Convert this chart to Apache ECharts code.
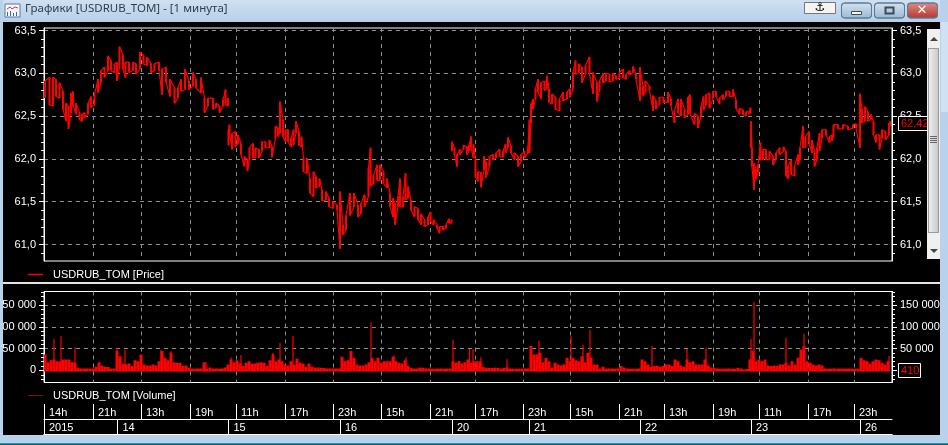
<!DOCTYPE html>
<html><head><meta charset="utf-8">
<style>html,body{margin:0;padding:0;background:#000;overflow:hidden}#c{width:948px;height:445px}</style>
<script src="https://cdn.jsdelivr.net/npm/echarts@6/dist/echarts.min.js"></script>
</head><body><div id="c"></div>
<script>
const windowTitle = 'Графики [USDRUB_TOM] - [1 минута]';
const priceName = 'USDRUB_TOM [Price]';
const volumeName = 'USDRUB_TOM [Volume]';
const hourBars = [0,49,97,146,192,241,289,337,386,431,479,526,575,620,669,715,764,810];
const hourLabels = ['14h','21h','13h','19h','11h','17h','23h','15h','21h','17h','23h','15h','21h','13h','19h','11h','17h','23h'];
const dateBars = [0,73.5,184.5,296,408,485,596,707,816];
const dateLabels = ['2015','14','15','16','20','21','22','23','26'];
const priceTicks = [61,61.5,62,62.5,63,63.5];
const priceMinorTicks = [60.9,61.1,61.2,61.3,61.4,61.6,61.7,61.8,61.9,62.1,62.2,62.3,62.4,62.6,62.7,62.8,62.9,63.1,63.2,63.3,63.4];
const volumeTicks = [0,50000,100000,150000];
const volumeMinorTicks = [-20000,-10000,10000,20000,30000,40000,60000,70000,80000,90000,110000,120000,130000,140000,160000,170000,180000];
const lastPrice = 62.42;
const lastVolume = 410;

// Bar position (one bar per screen column), session high and low; null marks a break in the line.
const priceBars = [1,5.5,9,12,15.5,19,22,24.5,27,29,32,35.5,38,40.5,44,47,50.5,54,57,60.5,64,67,70.5,73,75.5,79,81.5,85,89,92,96,99.5,103,107,110.5,115,118,122,126,130.5,134,137,141,145,149,152,157,160.5,164,169,172,175.5,179,181.5,184,184.2,
184.5,185.5,188,191.5,194,197,200.5,203.5,205.5,209,211.5,215,218,221.5,225.5,228,231.5,234,236,239,241.5,244,247,249.5,252,255,257.5,259.5,263,266,269.5,272,275.5,278,282,285,289,293,296,299,302,306,310,314,317,320.5,324.5,326.5,329.5,333,336,339.5,343,346,349,351,354,356,359,361.5,364,367,370.5,374,377,380.5,384,386.5,389.5,393,395.5,399,402,405,407.5,407.8,
408,410.5,413,416,419.5,423,425,427,429.5,431.5,434,437,440,442,445.5,449,452,455.5,459,461.5,464,467,470.5,474,477,480.5,484,485.5,487,489,491.5,494,497,500.5,503,505,508,511.5,515.5,519,523,526,529,531.5,535,538,541.5,545.5,549,553,555.5,559,562,565.5,569,572,575.5,579,582,585.5,589,592,596,599,601.5,605.5,609,612,615.5,619.5,624,627,630.5,634,637,640.5,644,646,650.5,654,657,659.5,662,665.5,669,672,675.5,679,682,685.5,689,692,695.5,699,702,705,706.5,706.8,
707,708,710,712,714,716.5,719,722,725.5,729,732,735.5,739.5,742,744,747,750.5,754,756,759,761.5,765,768,770.5,773,775.5,778,782,785.5,788,789.5,794,799,804,809,812,816,818,821,824,827,829.5,832,835.5,838,841.5,845,846];
const priceHighs = [62.91,62.95,62.95,62.93,62.89,62.79,62.65,62.62,62.77,62.79,62.65,62.54,62.52,62.54,62.65,62.73,62.75,62.93,63.03,63.07,63.20,63.15,63.11,63.13,63.31,63.21,63.13,63.13,63.13,63.11,63.25,63.21,63.19,63.11,63.11,63.13,63.05,63.07,62.93,62.83,62.83,62.93,63.05,62.91,63.01,62.93,62.95,62.71,62.71,62.71,62.65,62.62,62.69,62.81,62.71,null,
62.34,62.40,62.30,62.32,62.28,62.18,62.03,61.99,62.13,62.18,62.13,62.11,62.20,62.20,62.22,62.14,62.38,62.36,62.67,62.46,62.34,62.34,62.24,62.34,62.44,62.32,62.26,62.01,62.01,61.77,61.85,61.79,61.77,61.64,61.62,61.54,61.50,61.46,61.62,61.23,61.34,61.60,61.60,61.46,61.48,61.58,61.89,62.13,61.81,61.93,61.93,61.85,61.77,61.60,61.54,61.48,61.56,61.77,61.56,61.83,61.68,61.52,61.44,61.42,61.36,61.29,61.32,61.38,61.29,61.23,61.21,61.21,61.23,61.30,61.29,null,
62.20,62.13,62.05,62.11,62.16,62.14,62.16,62.26,62.17,61.99,61.85,61.84,62.03,61.97,62.03,62.05,62.07,62.11,62.09,62.17,62.25,62.15,62.07,62.03,62.05,62.09,62.15,62.46,62.64,62.70,62.82,62.93,62.89,62.91,62.97,62.82,62.76,62.72,62.70,62.78,62.78,62.82,63.01,63.15,63.11,63.07,63.09,63.19,63.01,62.89,62.91,63.00,63.00,62.99,63.00,62.97,63.01,63.05,62.99,63.03,63.08,62.99,63.07,62.85,62.91,62.85,62.74,62.68,62.72,62.72,62.78,62.70,62.56,62.70,62.70,62.58,62.72,62.75,62.53,62.50,62.61,62.73,62.75,62.77,62.79,62.79,62.71,62.75,62.79,62.79,62.81,62.69,62.59,62.57,62.55,62.55,62.60,null,
62.44,62.13,61.95,61.88,61.93,62.19,62.11,62.11,62.09,62.03,62.07,62.13,62.14,62.09,61.91,61.99,61.91,62.05,62.13,62.38,62.26,62.32,62.22,62.09,62.13,62.30,62.34,62.34,62.26,62.28,62.40,62.40,62.40,62.38,62.40,62.41,62.76,62.59,62.61,62.55,62.52,62.44,62.28,62.28,62.34,62.32,62.42,62.44];
const priceLows = [62.71,62.63,62.62,62.73,62.71,62.58,62.44,62.35,62.54,62.62,62.52,62.46,62.44,62.48,62.52,62.60,62.63,62.77,62.89,62.95,63.03,63.03,63.01,62.91,63.07,63.05,62.95,63.01,63.03,62.99,63.05,63.11,63.09,63.01,63.03,63.03,62.75,62.89,62.73,62.65,62.71,62.79,62.81,62.81,62.85,62.83,62.77,62.54,62.62,62.58,62.60,62.54,62.62,62.63,62.62,null,
62.16,62.30,62.11,62.14,62.18,62.05,61.91,61.86,61.99,62.01,62.01,62.01,62.09,62.13,62.13,62.02,62.24,62.26,62.30,62.26,62.20,62.20,62.14,62.16,62.30,62.16,62.14,61.85,61.83,61.60,61.56,61.66,61.68,61.51,61.52,61.44,61.42,61.41,60.95,61.11,61.17,61.34,61.44,61.32,61.36,61.44,61.56,61.68,61.71,61.75,61.75,61.71,61.66,61.44,61.32,61.23,61.44,61.44,61.44,61.52,61.54,61.40,61.32,61.29,61.23,61.21,61.23,61.27,61.23,61.19,61.13,61.17,61.19,61.25,61.25,null,
62.09,62.05,61.91,62.05,62.11,62.05,62.09,62.13,62.01,61.78,61.74,61.67,61.87,61.78,61.91,61.99,62.01,62.03,62.02,62.07,62.13,62.07,61.99,61.91,61.97,62.01,62.07,62.07,62.42,62.58,62.70,62.78,62.70,62.80,62.82,62.66,62.64,62.58,62.56,62.68,62.70,62.72,62.82,62.99,63.01,62.89,62.99,62.99,62.76,62.67,62.80,62.89,62.91,62.90,62.91,62.93,62.94,62.95,62.93,62.98,63.01,62.93,62.68,62.74,62.78,62.80,62.56,62.58,62.64,62.66,62.66,62.62,62.42,62.54,62.50,62.48,62.52,62.53,62.40,62.36,62.50,62.57,62.63,62.59,62.71,62.73,62.64,62.69,62.73,62.73,62.73,62.59,62.52,62.52,62.50,62.52,62.53,null,
62.13,61.91,61.64,61.76,61.84,61.99,61.99,61.99,61.99,61.93,61.99,62.05,62.09,61.80,61.77,61.82,61.80,61.93,61.99,62.13,62.13,62.19,62.07,61.91,61.99,62.09,62.24,62.28,62.19,62.21,62.26,62.35,62.35,62.34,62.36,62.36,62.13,62.42,62.44,62.44,62.46,62.28,62.19,62.11,62.24,62.22,62.28,62.38];

// Volume per three-column slot, left to right, starting at bar 1.
const volumeSlots = [34400,16800,21400,23000,19100,19100,23000,23000,23000,16800,15300,3100,2300,2300,2300,1500,2300,6100,15300,9200,6100,5400,2300,1500,42100,30600,13800,12200,13800,7700,21400,19100,34400,11500,9200,9200,11500,9200,19100,42100,26800,21400,38300,16800,15300,15300,7700,9200,3800,2300,1500,2300,2300,15300,2300,4600,2300,2300,1500,2300,4600,11500,23000,16800,21400,13800,7700,15300,19100,13800,13800,15300,16800,15300,7700,21400,34400,19100,23000,19100,11500,9200,19100,11500,24500,15300,13800,6100,13800,6100,4600,4600,3800,3100,2300,2300,2300,2300,2300,29100,19100,21400,42100,26800,11500,9200,9200,11500,16800,26800,19100,26800,15300,19100,19100,19100,29100,19100,15300,13800,21400,7700,3800,2300,2300,4600,3800,2300,2300,1500,1500,2300,2300,1500,2300,1500,19100,15300,19100,13800,16800,23000,
15300,19100,19100,19100,6100,3800,3100,3100,3800,3100,2300,3800,4600,2300,1500,1500,1500,1500,2300,2300,53600,34400,34400,38300,16800,26800,19100,4600,15300,11500,9200,11500,26800,19100,26800,21400,19100,30600,16800,38300,26800,11500,11500,2300,6100,2300,2300,2300,1500,2300,7700,4600,2300,1500,1500,1500,2300,23000,19100,11500,6100,7700,9200,6100,7700,11500,11500,7700,23000,19100,9200,6100,23000,16800,19100,11500,11500,11500,23000,9200,4600,3800,2300,1500,1500,1500,2300,1500,1500,3100,2300,0,800,23000,42100,19100,23000,19100,23000,9200,7700,9200,7700,11500,11500,15300,9200,19100,11500,26800,45900,53600,19100,15300,11500,9200,11500,9200,2300,1500,2300,2300,1500,2300,1500,1500,2300,1500,1500,1500,26800,21400,19100,13800,19100,23000,21400,15300,11500,19100];
// Narrow one-minute volume spikes that rise out of the slots above.
const spikeBars = [10,17,31,55.5,73,81,117,127,160,162,187,197,229,236,249,327,350,362,409,425.5,429,437,463,495,527,539,546,608,643,662,707,710,742,760,845];
const spikeValues = [70000,76000,51000,17000,49000,45000,44000,42000,17000,17000,28000,33000,38000,61000,77000,108000,32000,28000,68000,47000,47000,28000,24000,66000,76000,57000,91000,54000,47000,50000,70000,155000,73000,82000,31000];

const priceLine = [];
priceBars.forEach((b,i)=>{
  if(priceHighs[i]==null){priceLine.push([b,null]);return;}
  if(i%2){priceLine.push([b,priceHighs[i]],[b,priceLows[i]]);}
  else{priceLine.push([b,priceLows[i]],[b,priceHighs[i]]);}
});
const priceRange = priceBars.map((b,i)=>[b,priceLows[i],priceHighs[i]]).filter(d=>d[1]!=null);
const volumeData = volumeSlots.map((v,i)=>[1+3*i,v,3]);
const spikeData = spikeBars.map((b,i)=>[b,spikeValues[i],1.2]);

const FONT='"Liberation Sans",Arial,sans-serif';
const WHITE='#fff', GRID='#8a8a8a', RED='#ff0000', FRAME='#b9d1ea';
const comma=v=>String(v.toFixed(1)).replace('.',',');
const spaced=v=>String(v).replace(/\B(?=(\d{3})+$)/g,' ');
const PMIN=60.807, PMAX=63.529, VMIN=-27700, VMAX=181400, BMAX=848;
const dash={color:GRID,type:[4,4],width:1};
const labelStyle={color:WHITE,fontFamily:FONT,fontSize:11};

function mainX(grid){return {type:'value',gridIndex:grid,min:0,max:BMAX,
  axisLine:{show:false},axisTick:{show:false,customValues:hourBars.slice(1)},axisLabel:{show:false},
  splitLine:{show:true,lineStyle:dash}};}
function labelAxis(grid,pos,minmax,ticks,fmt,splitLine){return {type:'value',gridIndex:grid,position:pos,min:minmax[0],max:minmax[1],
  axisLine:{show:true,lineStyle:{color:WHITE}},
  axisTick:{show:true,length:5,customValues:ticks,lineStyle:{color:WHITE}},
  axisLabel:{show:true,customValues:ticks,formatter:fmt,margin:8,showMinLabel:true,showMaxLabel:true,hideOverlap:false,...labelStyle,padding:[2,0,0,0]},
  splitLine:{show:splitLine,lineStyle:dash}};}
function minorAxis(grid,pos,minmax,ticks){return {type:'value',gridIndex:grid,position:pos,min:minmax[0],max:minmax[1],
  axisLine:{show:false},axisTick:{show:true,length:3,customValues:ticks,lineStyle:{color:WHITE}},
  axisLabel:{show:false},splitLine:{show:false}};}
function rowAxis(grid,bars,labels,pos,showLabel){
  const ml={};bars.forEach((b,i)=>ml[b]=labels[i]);
  return {type:'value',gridIndex:grid,position:pos,min:0,max:BMAX,
    axisLine:{show:true,lineStyle:{color:WHITE}},
    axisTick:{show:false,customValues:bars},
    axisLabel:{show:showLabel,inside:true,customValues:bars,formatter:v=>ml[v]||'',align:'left',verticalAlign:'top',margin:3,padding:[0,0,0,5],showMinLabel:true,hideOverlap:false,...labelStyle},
    splitLine:{show:showLabel,lineStyle:{color:WHITE,type:'solid',width:1}}};
}
const hiddenY=g=>({type:'value',gridIndex:g,min:0,max:1,show:false});

const grad=(a,b)=>({type:'linear',x:0,y:0,x2:0,y2:1,colorStops:[{offset:0,color:a},{offset:1,color:b}]});
function btn(x,w,a,b){return {type:'rect',z:120,shape:{x:x,y:3,width:w,height:15,r:3},style:{fill:grad(a,b),stroke:'#5d7a94',lineWidth:1}};}
const chrome=[
 {type:'rect',z:100,shape:{x:0,y:0,width:948,height:22},style:{fill:grad('#cfe0f1','#b6cfe8')}},
 {type:'rect',z:100,shape:{x:0,y:0,width:3,height:445},style:{fill:FRAME}},
 {type:'rect',z:100,shape:{x:940,y:0,width:8,height:445},style:{fill:FRAME}},
 {type:'rect',z:101,shape:{x:941,y:22,width:7,height:90},style:{fill:'#cfe1f3'}},
 {type:'rect',z:100,shape:{x:0,y:435,width:948,height:10},style:{fill:FRAME}},
 {type:'rect',z:101,shape:{x:0,y:443,width:948,height:1},style:{fill:'#12a0b0'}},
 {type:'rect',z:101,shape:{x:0,y:444,width:948,height:1},style:{fill:'#0b5f70'}},
 // divider between panes
 {type:'rect',z:20,shape:{x:3,y:282,width:937,height:2},style:{fill:'#e4e4e4'}},
 // window icon
 {type:'rect',z:110,shape:{x:5,y:4,width:15,height:13},style:{fill:'#f4f7fb',stroke:'#5a7a9a',lineWidth:1}},
 {type:'polyline',z:111,shape:{points:[[7,9],[10,7],[12,9],[15,7],[18,8]]},style:{stroke:'#d33',lineWidth:1,fill:'none'}},
 {type:'rect',z:111,shape:{x:7,y:12,width:1,height:4},style:{fill:'#36c'}},
 {type:'rect',z:111,shape:{x:10,y:11,width:1,height:5},style:{fill:'#36c'}},
 {type:'rect',z:111,shape:{x:13,y:13,width:1,height:3},style:{fill:'#36c'}},
 {type:'rect',z:111,shape:{x:16,y:12,width:1,height:4},style:{fill:'#36c'}},
 // anchor toggle
 {type:'rect',z:120,shape:{x:804.5,y:2.5,width:31,height:11},style:{fill:'#f4f4f4',stroke:'#777',lineWidth:1}},
 {type:'text',z:121,x:820,y:8,style:{text:'⚓',font:'bold 12px "DejaVu Sans"',fill:'#000',align:'center',verticalAlign:'middle'}},
 // window buttons
 btn(841.5,30,'#d3e2f1','#9db8d4'),
 {type:'rect',z:121,shape:{x:851.5,y:11.5,width:10,height:3},style:{fill:'#f6f8fb',stroke:'#3c4a5a',lineWidth:1}},
 btn(874.5,30,'#d3e2f1','#9db8d4'),
 {type:'rect',z:121,shape:{x:885.5,y:7.5,width:8,height:6},style:{fill:'none',stroke:'#3c4a5a',lineWidth:2}},
 btn(907.5,30,'#dc8d86','#b7352b'),
 {type:'text',z:121,x:922,y:10.5,style:{text:'✕',font:'bold 13px "DejaVu Sans"',fill:'#fff',align:'center',verticalAlign:'middle'}},
 // scrollbar
 {type:'rect',z:60,shape:{x:927,y:29,width:13,height:230},style:{fill:'#f0f0f0'}},
 {type:'rect',z:61,shape:{x:928.5,y:48.5,width:10,height:184},style:{fill:{type:'linear',x:0,y:0,x2:1,y2:0,colorStops:[{offset:0,color:'#f2f2f2'},{offset:1,color:'#c6c6c6'}]},stroke:'#9a9a9a',lineWidth:1}},
 {type:'polygon',z:62,shape:{points:[[930,41],[934,37],[938,41]]},style:{fill:'#444'}},
 {type:'polygon',z:62,shape:{points:[[930,249],[934,253],[938,249]]},style:{fill:'#444'}},
 {type:'rect',z:62,shape:{x:930,y:136,width:7,height:1},style:{fill:'#666'}},
 {type:'rect',z:62,shape:{x:930,y:138,width:7,height:1},style:{fill:'#666'}},
 {type:'rect',z:62,shape:{x:930,y:140,width:7,height:1},style:{fill:'#666'}},
 {type:'rect',z:62,shape:{x:930,y:142,width:7,height:1},style:{fill:'#666'}}
];

const volumeBar=(p,api)=>{const a=api.coord([api.value(0),api.value(1)]),b=api.coord([api.value(0),0]),w=api.value(2);
  return {type:'rect',shape:{x:a[0]-w/2,y:a[1]-1,width:w,height:b[1]-a[1]+2},style:{fill:RED}};};

const chart=echarts.init(document.getElementById('c'),null,{renderer:'canvas'});
chart.setOption({
 animation:false,backgroundColor:'#000',
 title:{text:windowTitle,left:25,top:3,z:130,padding:0,textStyle:{color:'#2f3d4a',fontFamily:'"Noto Sans"',fontSize:11.5,fontWeight:'normal'}},
 legend:[
  {data:[{name:priceName,icon:'rect',itemStyle:{color:RED}}],left:28,top:269,padding:0,itemWidth:15,itemHeight:1.5,itemGap:0,textStyle:{...labelStyle,color:'#fff',padding:[0,0,0,5]},selectedMode:false},
  {data:[{name:volumeName,icon:'rect',itemStyle:{color:'#7a1010'}}],left:28,top:390,padding:0,itemWidth:15,itemHeight:1,itemGap:0,textStyle:{...labelStyle,color:'#fff',padding:[0,0,0,5]},selectedMode:false}
 ],
 grid:[
  {left:44,width:848,top:28,height:233,show:true,borderColor:WHITE,borderWidth:1,backgroundColor:'#000',outerBoundsMode:'none'},
  {left:44,width:848,top:291.5,height:91,show:true,borderColor:WHITE,borderWidth:1,backgroundColor:'#000',outerBoundsMode:'none'},
  {left:44,width:848,top:404,height:15,outerBoundsMode:'none'},
  {left:44,width:848,top:419,height:15,outerBoundsMode:'none'}
 ],
 xAxis:[
  mainX(0),
  mainX(1),
  rowAxis(2,hourBars,hourLabels,'top',true),
  rowAxis(3,dateBars,dateLabels,'top',true),
  rowAxis(3,dateBars,dateLabels,'bottom',false)
 ],
 yAxis:[
  labelAxis(0,'left',[PMIN,PMAX],priceTicks,comma,true),
  labelAxis(0,'right',[PMIN,PMAX],priceTicks,comma,false),
  minorAxis(0,'left',[PMIN,PMAX],priceMinorTicks),
  minorAxis(0,'right',[PMIN,PMAX],priceMinorTicks),
  labelAxis(1,'left',[VMIN,VMAX],volumeTicks,spaced,true),
  labelAxis(1,'right',[VMIN,VMAX],volumeTicks,spaced,false),
  minorAxis(1,'left',[VMIN,VMAX],volumeMinorTicks),
  minorAxis(1,'right',[VMIN,VMAX],volumeMinorTicks),
  hiddenY(2),hiddenY(3)
 ],
 series:[
  {name:priceName,type:'line',xAxisIndex:0,yAxisIndex:0,data:priceLine,symbol:'none',connectNulls:false,lineStyle:{color:RED,width:1.2},itemStyle:{color:RED},z:5},
  {name:'Price range',type:'custom',xAxisIndex:0,yAxisIndex:0,data:priceRange,z:5,silent:true,clip:true,
   renderItem:(p,api)=>{const a=api.coord([api.value(0),api.value(1)]),b=api.coord([api.value(0),api.value(2)]);
     return {type:'rect',shape:{x:a[0]-1,y:b[1],width:2,height:a[1]-b[1]},style:{fill:RED}};}},
  {name:volumeName,type:'custom',xAxisIndex:1,yAxisIndex:4,data:volumeData,encode:{x:0,y:1},renderItem:volumeBar,itemStyle:{color:RED},z:5,silent:true,clip:true},
  {name:'Volume spikes',type:'custom',xAxisIndex:1,yAxisIndex:4,data:spikeData,encode:{x:0,y:1},renderItem:volumeBar,z:5,silent:true,clip:true}
 ],
 graphic:chrome
});
// Current-value boxes sit on the axis at the values they report.
const pY=chart.convertToPixel({yAxisIndex:1},lastPrice);
const vY=chart.convertToPixel({yAxisIndex:5},lastVolume);
const boxes=[];
function box(y,w,txt){
 boxes.push({type:'rect',z:40,shape:{x:898.5,y:Math.round(y-7)+.5,width:w,height:14},style:{fill:'#000',stroke:'#fff',lineWidth:1}});
 boxes.push({type:'text',z:41,x:901,y:Math.round(y)+.5,style:{text:txt,font:'11px '+FONT,fill:RED,align:'left',verticalAlign:'middle'}});
}
box(pY,40,String(lastPrice).replace('.',','));
box(vY,22,String(lastVolume));
chart.setOption({graphic:chrome.concat(boxes)});
</script></body></html>
